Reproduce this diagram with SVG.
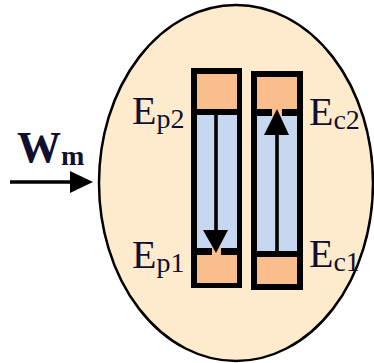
<svg xmlns="http://www.w3.org/2000/svg" width="374" height="363" viewBox="0 0 374 363">
<style>
.t{font-family:"Liberation Serif","Times New Roman",serif;fill:#10102e}
.big{font-size:40px}
.sub{font-size:28px}
.or{fill:#F9BE8C}
.bl{fill:#C6D7EF}
.k{fill:#000}
</style>
<rect width="374" height="363" fill="#fff"/>
<g id="body">
<ellipse cx="236" cy="183" rx="137" ry="178" fill="#FEEACD" stroke="#000" stroke-width="2.5"/>
</g>
<g id="bar-p">
<rect class="k" x="191" y="68" width="51" height="220"/>
<rect class="or" x="197" y="74" width="40" height="35"/>
<rect class="bl" x="197" y="115" width="40" height="133"/>
<rect class="or" x="197" y="255" width="40" height="28"/>
<rect class="or" x="212" y="247" width="9" height="9"/>
<rect class="k" x="214.2" y="109" width="3.6" height="123"/>
<polygon class="k" points="203,230 228,230 216,253"/>
</g>
<g id="bar-c">
<rect class="k" x="251" y="71" width="52" height="219"/>
<rect class="or" x="257" y="77" width="40" height="32"/>
<rect class="bl" x="257" y="116" width="40" height="135"/>
<rect class="or" x="257" y="257" width="40" height="27"/>
<rect class="or" x="272" y="108" width="10" height="9"/>
<rect class="k" x="275.2" y="133" width="3.6" height="120"/>
<polygon class="k" points="264,135 289,135 277,109"/>
</g>
<g id="labels">
<text class="t big" x="132" y="124">E<tspan class="sub" dy="4">p2</tspan></text>
<text class="t big" x="132" y="268">E<tspan class="sub" dy="4">p1</tspan></text>
<text class="t big" x="309" y="125">E<tspan class="sub" dy="4">c2</tspan></text>
<text class="t big" x="309" y="267">E<tspan class="sub" dy="4">c1</tspan></text>
</g>
<g id="input">
<text class="t" x="17" y="162" font-size="44" font-weight="bold">W<tspan font-size="28" dy="3">m</tspan></text>
</g>
<g id="connectors">
<line x1="10" y1="182" x2="74" y2="182" stroke="#000" stroke-width="3.5"/>
<polygon points="70,171 93,182 70,193" fill="#000"/>
</g>
</svg>
